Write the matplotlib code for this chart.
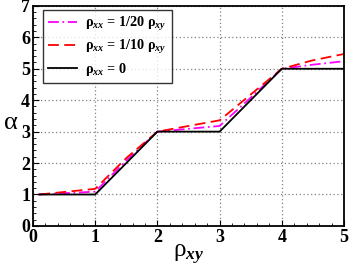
import matplotlib
matplotlib.use("Agg")
import matplotlib.pyplot as plt
from matplotlib.ticker import MultipleLocator

plt.rcParams['font.family'] = 'Liberation Serif'
plt.rcParams['font.weight'] = 'bold'
plt.rcParams['mathtext.fontset'] = 'custom'
plt.rcParams['mathtext.rm'] = 'Liberation Serif:bold'
plt.rcParams['mathtext.it'] = 'Liberation Serif:italic:bold'
plt.rcParams['mathtext.bf'] = 'Liberation Serif:bold'

rho_xy = [0.1, 0.5, 1.0, 1.5, 2.0, 2.5, 3.0, 3.5, 4.0, 4.5, 5.0]
alpha_20 = [1.0, 1.04, 1.09, 2.08, 3.0, 3.09, 3.18, 4.08, 5.0, 5.13, 5.24]
alpha_10 = [1.0, 1.08, 1.18, 2.16, 3.0, 3.18, 3.36, 4.18, 5.0, 5.27, 5.47]
alpha_0 = [1.0, 1.0, 1.0, 2.0, 3.0, 3.0, 3.0, 4.0, 5.0, 5.0, 5.0]

fig = plt.figure(figsize=(3.49, 2.68), dpi=100)
ax = fig.add_axes([0.0946, 0.157, 0.891, 0.821])

ax.plot(rho_xy, alpha_20, color='magenta', ls=(0, (6, 2, 1, 2)), lw=1.3,
        label=r'ρ$_{xx}$ = 1/20 ρ$_{xy}$')
ax.plot(rho_xy, alpha_10, color='red', ls=(0, (6, 3)), lw=1.3,
        label=r'ρ$_{xx}$ = 1/10 ρ$_{xy}$')
ax.plot(rho_xy, alpha_0, color='black', lw=1.3, label=r'ρ$_{xx}$ = 0')

ax.set_xlim(0, 5)
ax.set_ylim(0, 7)
ax.xaxis.set_major_locator(MultipleLocator(1))
ax.yaxis.set_major_locator(MultipleLocator(1))
ax.xaxis.set_minor_locator(MultipleLocator(0.2))
ax.yaxis.set_minor_locator(MultipleLocator(0.2))
ax.tick_params(which='both', direction='in', top=False, right=False)
ax.tick_params(which='major', length=4, labelsize=13, pad=2)
ax.tick_params(which='minor', length=2)
ax.grid(True, which='major', color='gray', ls=(0, (1, 2)), lw=0.9)
for s in ax.spines.values():
    s.set_linewidth(1.3)

ax.set_xlabel(r'ρ$_{xy}$', fontsize=18, fontweight='normal', labelpad=-2)
ax.set_ylabel('α', fontsize=19, fontweight='normal', rotation=0, va='center')
ax.yaxis.set_label_coords(-0.07, 0.47)

leg = ax.legend(loc='upper left', bbox_to_anchor=(0.032, 0.982), borderaxespad=0,
                fontsize=10.3, frameon=True, fancybox=False, edgecolor='black',
                handlelength=2.0, labelspacing=0.35, borderpad=0.35,
                handletextpad=0.6)
leg.get_frame().set_linewidth(1.0)

fig.savefig('out.png', dpi=100)
